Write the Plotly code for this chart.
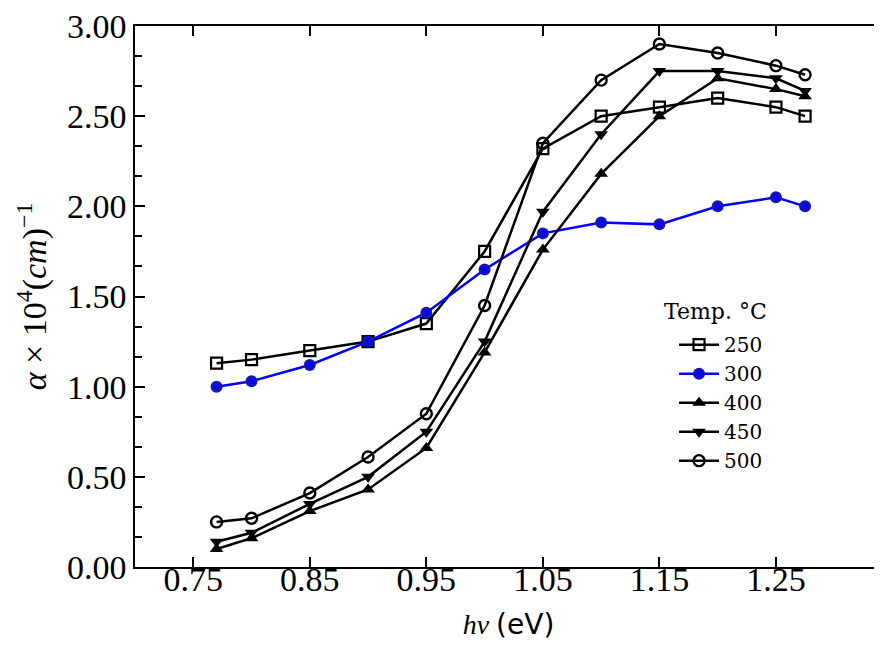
import plotly.graph_objects as go

x_vals = [0.77, 0.80, 0.85, 0.90, 0.95, 1.00, 1.05, 1.10, 1.15, 1.20, 1.25, 1.275]
a250 = [1.13, 1.15, 1.20, 1.25, 1.35, 1.75, 2.32, 2.50, 2.55, 2.60, 2.55, 2.50]
a300 = [1.00, 1.03, 1.12, 1.25, 1.41, 1.65, 1.85, 1.91, 1.90, 2.00, 2.05, 2.00]
a400 = [0.10, 0.16, 0.31, 0.43, 0.66, 1.19, 1.76, 2.18, 2.50, 2.71, 2.65, 2.61]
a450 = [0.14, 0.19, 0.35, 0.50, 0.75, 1.25, 1.97, 2.40, 2.75, 2.75, 2.71, 2.64]
a500 = [0.25, 0.27, 0.41, 0.61, 0.85, 1.45, 2.35, 2.70, 2.90, 2.85, 2.78, 2.73]
x_ticks = [0.75, 0.85, 0.95, 1.05, 1.15, 1.25]
y_ticks = [0.0, 0.5, 1.0, 1.5, 2.0, 2.5, 3.0]

SERIF = "Liberation Serif, DejaVu Serif, serif"
SERIF2 = "DejaVu Serif, serif"

fig = go.Figure()
lw = 2.5
fig.add_trace(go.Scatter(x=x_vals, y=a250, name="250", mode="lines+markers",
                         line=dict(color="black", width=lw),
                         marker=dict(symbol="square-open", size=11, color="black",
                                     line=dict(width=2.2, color="black"))))
fig.add_trace(go.Scatter(x=x_vals, y=a300, name="300", mode="lines+markers",
                         line=dict(color="#0000ff", width=lw),
                         marker=dict(symbol="circle", size=12, color="#1a1aa8",
                                     gradient=dict(type="radial", color="#0000ff"),
                                     line=dict(width=0))))
fig.add_trace(go.Scatter(x=x_vals, y=a400, name="400", mode="lines+markers",
                         line=dict(color="black", width=lw),
                         marker=dict(symbol="triangle-up", size=12, color="black")))
fig.add_trace(go.Scatter(x=x_vals, y=a450, name="450", mode="lines+markers",
                         line=dict(color="black", width=lw),
                         marker=dict(symbol="triangle-down", size=12, color="black")))
fig.add_trace(go.Scatter(x=x_vals, y=a500, name="500", mode="lines+markers",
                         line=dict(color="black", width=lw),
                         marker=dict(symbol="circle-open", size=11, color="black",
                                     line=dict(width=2.4, color="black"))))

fig.add_annotation(text="Temp. °C", xref="paper", yref="paper",
                   x=0.7055, y=0.4724, xanchor="left", yanchor="middle",
                   showarrow=False, font=dict(family=SERIF2, size=22, color="black"))

fig.update_layout(
    width=874, height=638,
    margin=dict(l=127, r=0, t=15, b=79),
    plot_bgcolor="white", paper_bgcolor="white",
    font=dict(family=SERIF, color="black", size=22),
    legend=dict(
        x=0.7216, y=0.447, xanchor="left", yanchor="top",
        bgcolor="rgba(0,0,0,0)", font=dict(family=SERIF2, size=20),
        itemwidth=40,
    ),
    xaxis=dict(
        range=[0.70, 1.341], tickvals=x_ticks,
        ticktext=[f"{v:.2f}" for v in x_ticks],
        ticks="inside", ticklen=10, tickwidth=2, tickcolor="black",
        showline=True, linecolor="black", linewidth=1.5, mirror="allticks",
        showgrid=False, zeroline=False, ticklabeloverflow="allow",
        tickfont=dict(family=SERIF, size=34), ticklabelstandoff=-19,
        title=dict(text="<i>hν</i> <span style='font-family:DejaVu Sans'>(eV)</span>",
                   font=dict(family=SERIF, size=28), standoff=18),
    ),
    yaxis=dict(
        range=[0, 3.0], tickvals=y_ticks,
        ticktext=[f"{v:.2f}" for v in y_ticks],
        ticks="inside", ticklen=10, tickwidth=2, tickcolor="black",
        showline=True, linecolor="black", linewidth=1.5,
        showgrid=False, zeroline=False, ticklabeloverflow="allow",
        tickfont=dict(family=SERIF, size=34),
        minor=dict(dtick=0.5/3, tick0=0, ticks="inside", ticklen=7, tickwidth=2,
                   tickcolor="black", showgrid=False),
        title=dict(text="<i>α</i> × 10<sup>4</sup>(<i>cm</i>)<sup>−1</sup>",
                   font=dict(family=SERIF, size=34), standoff=10),
    ),
)

fig.write_html("out.html")
